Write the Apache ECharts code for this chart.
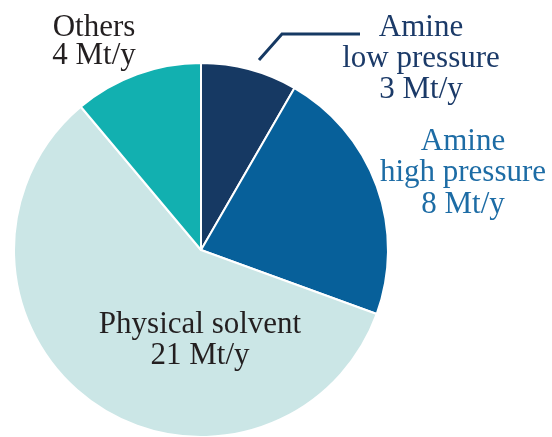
<!DOCTYPE html>
<html>
<head>
<meta charset="utf-8">
<script src="https://cdn.jsdelivr.net/npm/echarts@6/dist/echarts.min.js"></script>
<style>
  html, body { margin: 0; padding: 0; background: #fff; }
  #chart { width: 552px; height: 437px; }
</style>
</head>
<body>
<div id="chart"></div>
<script>
// CO2 capture capacity by technology (Mt/y)
const categories = ['Amine\nlow pressure', 'Amine\nhigh pressure', 'Physical solvent', 'Others'];
const capacities = [3, 8, 21, 4];
const unit = 'Mt/y';

const sliceColors = ['#163963', '#07609a', '#cbe6e6', '#12b0b0'];
const labelColors = ['#1b3a68', '#1d6ca5', '#231f20', '#231f20'];

// label placement: block centre (x, y) and line spacing
const labelSpots = [
  { x: 421, y: 59, lh: 31 },
  { x: 463, y: 173, lh: 31.5 },
  { x: 200, y: 340, lh: 31 },
  { x: 94, y: 42, lh: 28 }
];
const leaderLine = [[259, 60], [282, 34], [360, 34]];

const chart = echarts.init(document.getElementById('chart'), null, { renderer: 'canvas' });

chart.setOption({
  animation: false,
  series: [{
    type: 'pie',
    center: [201, 250],
    radius: 187,
    startAngle: 90,
    clockwise: true,
    avoidLabelOverlap: false,
    itemStyle: { borderColor: '#ffffff', borderWidth: 2 },
    emphasis: { disabled: true },
    data: categories.map((name, i) => ({
      name: name,
      value: capacities[i],
      itemStyle: { color: sliceColors[i] },
      label: {
        color: labelColors[i],
        lineHeight: labelSpots[i].lh
      },
      labelLine: { show: i === 0 }
    })),
    label: {
      show: true,
      position: 'outside',
      formatter: p => p.name + '\n' + p.value + ' ' + unit,
      fontFamily: '"Liberation Serif", "Times New Roman", serif',
      fontSize: 31,
      align: 'center'
    },
    labelLine: {
      show: true,
      lineStyle: { color: '#163963', width: 3 }
    },
    labelLayout: function (params) {
      const s = labelSpots[params.dataIndex];
      const out = { x: s.x, y: s.y, align: 'center', verticalAlign: 'middle', hideOverlap: false };
      if (params.dataIndex === 0) out.labelLinePoints = leaderLine;
      return out;
    }
  }]
});
</script>
</body>
</html>
